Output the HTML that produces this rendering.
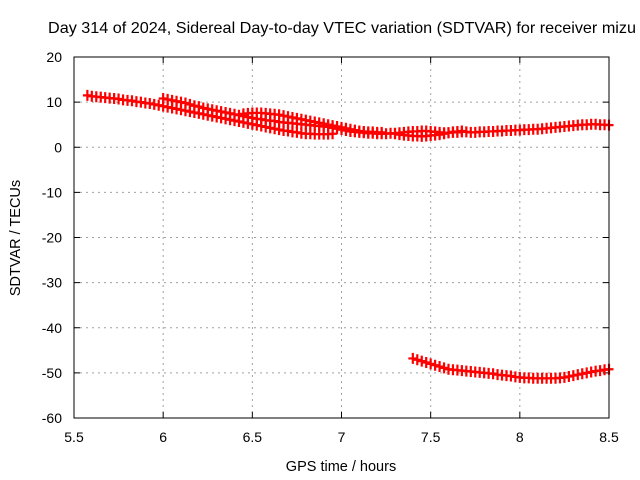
<!DOCTYPE html>
<html><head><meta charset="utf-8"><style>
body{margin:0;background:#fff;}
svg{display:block;font-family:"Liberation Sans",sans-serif;}
</style></head><body>
<svg id="chart" width="640" height="480" xmlns="http://www.w3.org/2000/svg">
<text x="48" y="33" font-size="16" textLength="588" lengthAdjust="spacingAndGlyphs">Day 314 of 2024, Sidereal Day-to-day VTEC variation (SDTVAR) for receiver mizu</text>
<text x="341" y="471" font-size="14.5" text-anchor="middle">GPS time / hours</text>
<text transform="translate(20,238) rotate(-90)" font-size="14.5" text-anchor="middle">SDTVAR / TECUs</text>
<g id="grid"></g>
<g id="ticks"></g>
<g id="marks"></g>
<rect x="74" y="57" width="535" height="361" fill="none" stroke="#000" stroke-width="1"/>
</svg>
<script>
const xTicks=[5.5,6,6.5,7,7.5,8,8.5];
const xTickLabels=["5.5","6","6.5","7","7.5","8","8.5"];
const yTicks=[20,10,0,-10,-20,-30,-40,-50,-60];
const yTickLabels=["20","10","0","-10","-20","-30","-40","-50","-60"];
const step=0.025;
const trackAStart=5.575;
const trackA=[11.5,11.3,11.2,11.1,11.0,10.9,10.8,10.7,10.5,10.4,10.3,10.1,10.0,9.8,9.7,9.5,9.3,9.1,8.9,8.7,8.5,8.3,8.1,7.9,7.7,7.5,7.3,7.1,6.9,6.7,6.5,6.3,6.1,5.9,5.7,5.5,5.3,5.1,4.9,4.7,4.5,4.3,4.1,3.9,3.7,3.6,3.4,3.3,3.1,3.0,3.0,2.9,2.9,2.9,2.9,3.0];
const trackBStart=6.0;
const trackB=[10.8,10.6,10.4,10.2,10.0,9.8,9.5,9.2,9.0,8.7,8.5,8.3,8.1,7.9,7.7,7.5,7.3,7.1,6.9,6.7,6.5,6.3,6.2,6.0,5.9,5.8,5.6,5.5,5.4,5.3,5.2,5.1,5.0,4.9,4.8,4.7,4.6,4.5,4.3,4.1,3.9,3.7,3.5,3.4,3.3,3.2,3.1,3.1,3.0,3.0,3.0,3.1,3.1,3.2,3.3,3.4,3.5,3.5,3.6,3.6,3.5,3.4,3.3,3.2,3.2,3.3,3.3,3.4,3.4,3.3,3.3,3.4,3.4,3.5,3.5,3.6,3.6,3.7,3.7,3.8,3.8,3.9,3.9,4.0,4.0,4.1,4.2,4.3,4.4,4.5,4.6,4.7,4.8,4.9,5.0,5.0,5.1,5.1,5.0,5.0,4.9];
const trackCStart=6.45;
const trackC=[7.4,7.5,7.6,7.6,7.6,7.5,7.4,7.3,7.2,7.0,6.8,6.6,6.4,6.2,6.0,5.8,5.6,5.4,5.2,5.0,4.8,4.6,4.4,4.2,4.0,3.8,3.6,3.5,3.4,3.4,3.3,3.3];
const trackDStart=7.3;
const trackD=[3.0,2.8,2.7,2.6,2.5,2.5,2.4,2.5,2.6,2.7,2.8,3.0,3.2,3.4,3.5,3.6];
const trackLowStart=7.4;
const trackLow=[-46.8,-47.1,-47.4,-47.7,-48.0,-48.3,-48.6,-48.9,-49.2,-49.3,-49.4,-49.5,-49.6,-49.7,-49.8,-49.9,-50.0,-50.1,-50.2,-50.4,-50.5,-50.6,-50.7,-50.9,-51.0,-51.1,-51.1,-51.2,-51.2,-51.2,-51.2,-51.2,-51.2,-51.1,-51.0,-50.8,-50.6,-50.4,-50.2,-50.0,-49.8,-49.6,-49.5,-49.3,-49.2];

const NS="http://www.w3.org/2000/svg";
const X0=74,X1=609,Y0=418,Y1=57;
function xs(v){return X0+(v-5.5)/(8.5-5.5)*(X1-X0);}
function ys(v){return Y0-(v-(-60))/(20-(-60))*(Y0-Y1);}
function mk(tag,attrs,parent){const e=document.createElementNS(NS,tag);for(const k in attrs)e.setAttribute(k,attrs[k]);parent.appendChild(e);return e;}
const grid=document.getElementById('grid'),ticks=document.getElementById('ticks'),marks=document.getElementById('marks');
xTicks.forEach((t,i)=>{
  const x=xs(t);
  if(i>0&&i<xTicks.length-1){const g=mk('line',{x1:x,x2:x,y1:Y1,y2:Y0,stroke:'#a0a0a0','stroke-dasharray':'2,4'},grid);
  
  }
  mk('line',{x1:x,x2:x,y1:Y0,y2:Y0-6,stroke:'#000'},ticks);
  mk('line',{x1:x,x2:x,y1:Y1,y2:Y1+6,stroke:'#000'},ticks);
  const tx=mk('text',{x:x,y:Y0+24,'font-size':'14','text-anchor':'middle'},ticks);
  tx.textContent=xTickLabels[i];
  
  
});
yTicks.forEach((t,i)=>{
  const y=ys(t);
  if(i>0&&i<yTicks.length-1){const g=mk('line',{x1:X0,x2:X1,y1:y,y2:y,stroke:'#a0a0a0','stroke-dasharray':'2,4'},grid);
  
  }
  mk('line',{x1:X0,x2:X0+6,y1:y,y2:y,stroke:'#000'},ticks);
  mk('line',{x1:X1,x2:X1-6,y1:y,y2:y,stroke:'#000'},ticks);
  const tx=mk('text',{x:X0-12,y:y+5,'font-size':'14','text-anchor':'end'},ticks);
  tx.textContent=yTickLabels[i];
  
  
});
function drawTrack(start,vals,name){
  vals.forEach((v,i)=>{
    const x=xs(start+i*step),y=ys(v);
    const p=mk('path',{d:`M${x-4.5},${y}H${x+4.5}M${x},${y-5.5}V${y+5.5}`,stroke:'#ff0000','stroke-width':'2.2',fill:'none'},marks);
    
    
  });
}
drawTrack(trackAStart,trackA,'track-a');
drawTrack(trackBStart,trackB,'track-b');
drawTrack(trackCStart,trackC,'track-c');
drawTrack(trackDStart,trackD,'track-d');
drawTrack(trackLowStart,trackLow,'track-low');
</script>
</body></html>
